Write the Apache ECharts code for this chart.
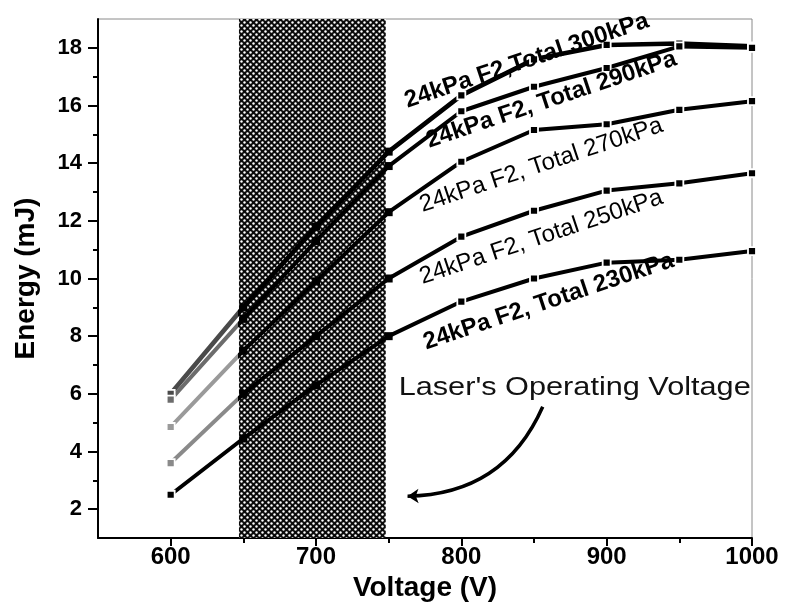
<!DOCTYPE html>
<html>
<head>
<meta charset="utf-8">
<script src="https://cdn.jsdelivr.net/npm/echarts@6/dist/echarts.min.js"></script>
<style>
  html, body { margin: 0; padding: 0; background: #fff; }
  #main { width: 785px; height: 607px; }
</style>
</head>
<body>
<div id="main"></div>
<script>
// Discharge voltage (V) at which the pulse energy was measured
const voltages = [600, 650, 700, 750, 800, 850, 900, 950, 1000];

// Pulse energy (mJ) for each total gas pressure, 24 kPa F2 in every mix
const energy300 = [6.0, 9.0, 11.8, 14.4, 16.35, 17.6, 18.1, 18.15, 18.05];
const energy290 = [5.8, 8.6, 11.3, 13.9, 15.8, 16.65, 17.3, 18.05, 18.0];
const energy270 = [4.85, 7.5, 9.9, 12.3, 14.05, 15.15, 15.35, 15.85, 16.15];
const energy250 = [3.6, 6.0, 8.0, 10.0, 11.45, 12.35, 13.05, 13.3, 13.65];
const energy230 = [2.5, 4.45, 6.3, 8.0, 9.2, 10.0, 10.55, 10.65, 10.95];

const seriesNames = [
  '24kPa F2,Total 300kPa',
  '24kPa F2, Total 290kPa',
  '24kPa F2, Total 270kPa',
  '24kPa F2, Total 250kPa',
  '24kPa F2, Total 230kPa'
];
const seriesValues = [energy300, energy290, energy270, energy250, energy230];

// Axis ticks and labels
const xTicks = [600, 700, 800, 900, 1000];
const xMinorTicks = [650, 750, 850, 950];
const yTicks = [2, 4, 6, 8, 10, 12, 14, 16, 18];
const yMinorTicks = [3, 5, 7, 9, 11, 13, 15, 17];

// Voltage band in which the laser is operated
const operatingBand = [647, 748];

const FONT = '"Liberation Sans", Arial, Helvetica, sans-serif';

// Where each curve's caption sits (voltage, energy), its weight and tilt
const captionPlaces = [
  { at: [845, 17.55], weight: 'bold' },
  { at: [862, 16.2], weight: 'bold' },
  { at: [855, 13.93], weight: 'normal' },
  { at: [855, 11.43], weight: 'normal' },
  { at: [860, 9.2], weight: 'bold' }
];
const captionTilt = 18.5;
const noteText = "Laser's Operating Voltage";
const notePlace = [878, 6.2];
const arrowFrom = [856, 5.55];
const arrowTo = [763, 2.45];

// Colour of the first (600-650 V) segment of each curve
const leadColours = ['#4a4a4a', '#6c6c6c', '#9a9a9a', '#8a8a8a', null];

// Cross-hatched fill for the operating band
function hatchPattern() {
  const c = document.createElement('canvas');
  c.width = 6; c.height = 6;
  const g = c.getContext('2d');
  g.fillStyle = '#0a0a0a';
  g.fillRect(0, 0, 6, 6);
  g.fillStyle = '#ffffff';
  [[1.5, 1.5], [4.5, 4.5]].forEach(function (p) {
    g.beginPath();
    g.arc(p[0], p[1], 1.2, 0, Math.PI * 2);
    g.fill();
  });
  return c;
}

const chart = echarts.init(document.getElementById('main'));

function buildData(values) {
  return voltages.map(function (v, i) {
    const inBand = v >= operatingBand[0] && v <= operatingBand[1] + 2;
    return {
      value: [v, values[i]],
      itemStyle: { borderWidth: inBand ? 0 : 1.8 }
    };
  });
}

const series = seriesValues.map(function (vals, i) {
  return {
    name: seriesNames[i],
    type: 'line',
    z: 2,
    data: buildData(vals),
    symbol: 'rect',
    symbolSize: 8,
    showAllSymbol: true,
    lineStyle: { width: i === 0 ? 4.6 : 4 },
    itemStyle: { color: '#000', borderColor: '#fff', borderWidth: 1.8 },
    emphasis: { disabled: true },
    animation: false
  };
});

// operating band attached to the last curve (drawn beneath the lines)
series[4].markArea = {
  silent: true,
  label: { show: false },
  itemStyle: { color: { image: hatchPattern(), repeat: 'repeat' } },
  data: [[{ xAxis: operatingBand[0] }, { xAxis: operatingBand[1] }]]
};

// curved pointer from the note towards the operating band
series.push({
  type: 'lines',
  coordinateSystem: 'cartesian2d',
  z: 5,
  silent: true,
  symbol: ['none', 'arrow'],
  symbolSize: 11,
  lineStyle: { color: '#000', width: 3.5, curveness: 0.32, opacity: 1 },
  data: [{ coords: [arrowFrom, arrowTo] }],
  animation: false
});

const visualMaps = [];
leadColours.forEach(function (col, i) {
  if (!col) return;
  visualMaps.push({
    type: 'piecewise',
    show: false,
    dimension: 0,
    seriesIndex: i,
    pieces: [
      { gte: 500, lt: 646, color: col },
      { gte: 646, lte: 1100, color: '#000' }
    ]
  });
});

const axisText = { color: '#000', fontFamily: FONT, fontWeight: 'bold' };
const plainNumber = function (v) { return String(v); };

chart.setOption({
  animation: false,
  backgroundColor: '#fff',
  grid: {
    left: 98, right: 33, top: 19, bottom: 69,
    show: true, borderColor: '#8a8a8a', borderWidth: 1,
    backgroundColor: 'transparent'
  },
  visualMap: visualMaps,
  xAxis: [
    {
      type: 'value', min: 550, max: 1000,
      name: 'Voltage (V)', nameLocation: 'middle', nameGap: 34,
      nameTextStyle: Object.assign({ fontSize: 28 }, axisText),
      axisLine: { show: true, onZero: false, lineStyle: { color: '#000', width: 2 } },
      axisTick: { show: true, customValues: xTicks, length: 8, lineStyle: { color: '#000', width: 2 } },
      axisLabel: Object.assign({ customValues: xTicks, fontSize: 24, margin: 7, formatter: plainNumber }, axisText),
      splitLine: { show: false }
    },
    {
      type: 'value', min: 550, max: 1000, position: 'bottom',
      axisLine: { show: false },
      axisTick: { show: true, customValues: xMinorTicks, length: 5, lineStyle: { color: '#000', width: 2 } },
      axisLabel: { show: false },
      splitLine: { show: false }
    }
  ],
  yAxis: [
    {
      type: 'value', min: 1, max: 19,
      name: 'Energy (mJ)', nameLocation: 'middle', nameGap: 58,
      nameTextStyle: Object.assign({ fontSize: 28 }, axisText),
      axisLine: { show: true, onZero: false, lineStyle: { color: '#000', width: 2 } },
      axisTick: { show: true, customValues: yTicks, length: 10, lineStyle: { color: '#000', width: 2 } },
      axisLabel: Object.assign({ customValues: yTicks, fontSize: 22, margin: 16, formatter: plainNumber }, axisText),
      splitLine: { show: false }
    },
    {
      type: 'value', min: 1, max: 19, position: 'left',
      axisLine: { show: false },
      axisTick: { show: true, customValues: yMinorTicks, length: 5, lineStyle: { color: '#000', width: 2 } },
      axisLabel: { show: false },
      splitLine: { show: false }
    }
  ],
  series: series
});

// captions laid along the curves, placed through the axes' scales
const graphics = captionPlaces.map(function (c, i) {
  const p = chart.convertToPixel({ gridIndex: 0 }, c.at);
  return {
    type: 'text', x: p[0], y: p[1], z: 10,
    rotation: captionTilt * Math.PI / 180,
    style: {
      text: seriesNames[i], fill: '#000',
      font: c.weight + ' 24px ' + FONT,
      align: 'center', verticalAlign: 'middle'
    }
  };
});
const np = chart.convertToPixel({ gridIndex: 0 }, notePlace);
graphics.push({
  type: 'text', x: np[0], y: np[1], z: 10, scaleX: 1.18,
  style: {
    text: noteText, fill: '#111',
    font: 'normal 26px ' + FONT,
    align: 'center', verticalAlign: 'middle'
  }
});
chart.setOption({ graphic: graphics });
</script>
</body>
</html>
